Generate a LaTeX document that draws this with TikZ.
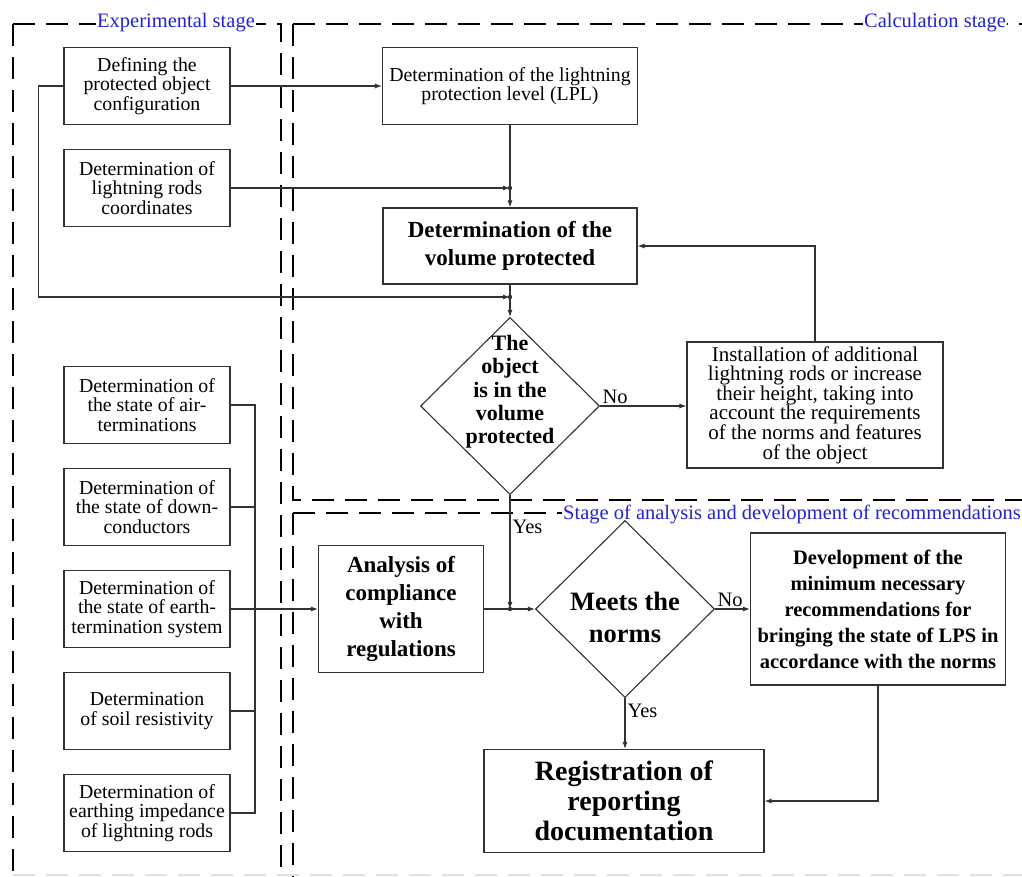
\documentclass[tikz,border=0pt]{standalone}
\usepackage{fontspec}
\setmainfont{Liberation Serif}
\usetikzlibrary{shapes.geometric,arrows.meta}
\definecolor{stageblue}{RGB}{35,35,205}
\definecolor{linegray}{RGB}{50,50,50}

\begin{document}
\begin{tikzpicture}[x=1pt,y=1pt,yscale=-1,xscale=1,
    >={Latex[length=7pt,width=5pt]},
    stageline/.style={line width=2.9pt,dash pattern=on 22pt off 11pt},
    stagelabel/.style={fill=white,inner sep=1.5pt,text=stageblue,font=\fontsize{20.5}{22}\selectfont},
    box/.style={draw=linegray,line width=1.1pt,rectangle,align=center,inner sep=2pt,font=\fontsize{19.8}{19.5}\selectfont},
    expbox/.style={box,minimum width=166pt,minimum height=77pt},
    boldbox/.style={box,font=\fontsize{23}{28}\selectfont\bfseries},
    decision/.style={draw=linegray,line width=1.1pt,diamond,aspect=1,inner sep=0pt,minimum width=179pt,minimum height=177pt},
    dtext/.style={align=center,inner sep=0pt},
    flow/.style={draw=linegray,line width=1.1pt},
    lbl/.style={inner sep=2pt,font=\fontsize{20.5}{22}\selectfont}]
    \useasboundingbox (0,0) rectangle (1022,876);
    \clip (0,0) rectangle (1022,876);

    % stage frames
    \draw[stageline] (13,24) -- (13,880);
    \draw[stageline] (13,24) -- (281,24) -- (281,880);
    \draw[stageline] (293,24) -- (1030,24);
    \draw[stageline] (293,513) -- (1030,513);
    \draw[stageline] (293,513) -- (293,880);
    \draw[stageline,draw=black!12] (13,875) -- (1030,875);
    \node[stagelabel] (explab) at (176,23) {Experimental stage};
    \node[stagelabel] (calclab) at (935,23) {Calculation stage};
    \node[stagelabel] (analab) at (792,514) {Stage of analysis and development of recommendations};
    \draw[stageline] (293,24) -- (293,500) -- (1030,500);

    % Experimental stage
    \node[expbox] (def) at (147,86) {Defining the\\protected object\\configuration};
    \node[expbox] (rods) at (147,188) {Determination of\\lightning rods\\coordinates};
    \node[expbox] (air) at (147,405) {Determination of\\the state of air-\\terminations};
    \node[expbox] (down) at (147,507) {Determination of\\the state of down-\\conductors};
    \node[expbox] (earth) at (147,609) {Determination of\\the state of earth-\\termination system};
    \node[expbox] (soil) at (147,711) {Determination\\of soil resistivity};
    \node[expbox] (imp) at (147,813) {Determination of\\earthing impedance\\of lightning rods};

    % Calculation stage
    \node[box,minimum width=255pt,minimum height=77pt] (lpl) at (510,86) {Determination of the lightning\\protection level (LPL)};
    \node[boldbox,minimum width=254pt,minimum height=76pt] (vol) at (510,246) {Determination of the\\volume protected};
    \node[decision,label={[dtext,shift={(0,14)},font=\fontsize{22}{23.3}\selectfont\bfseries]center:The\\object\\is in the\\volume\\protected}] (d1) at (510,406) {};
    \node[box,font=\fontsize{21}{19.6}\selectfont,minimum width=256pt,minimum height=126pt] (inst) at (815,405) {Installation of additional\\lightning rods or increase\\their height, taking into\\account the requirements\\of the norms and features\\of the object};

    % Stage of analysis
    \node[boldbox,minimum width=165pt,minimum height=127pt] (ana) at (401,609) {Analysis of\\compliance\\with\\regulations};
    \node[decision,label={[dtext,shift={(0,-8)},font=\fontsize{26.5}{32}\selectfont\bfseries]center:Meets the\\norms}] (d2) at (625,609) {};
    \node[box,font=\fontsize{20.5}{26}\selectfont\bfseries,minimum width=255pt,minimum height=152pt] (dev) at (878,609) {Development of the\\minimum necessary\\recommendations for\\bringing the state of LPS in\\accordance with the norms};
    \node[box,font=\fontsize{28}{30}\selectfont\bfseries,minimum width=280pt,minimum height=103pt] (reg) at (624,801) {Registration of\\reporting\\documentation};

    % junctions
    \coordinate (j1) at (lpl.south |- rods.east);
    \coordinate (j2) at (510,297);
    \coordinate (j3) at (d1.south |- ana.east);
    \coordinate (bus) at (255,405);
    \coordinate (busend) at (255,813);

    % connectors
    \draw[flow,->] (def.east) -- (lpl.west);
    \draw[flow,->] (rods.east) -- (j1);
    \draw[flow] (lpl.south) -- (j1);
    \draw[flow,->] (j1) -- (vol.north);
    \draw[flow,->] (def.west) -- ++(-25,0) |- (j2);
    \draw[flow] (vol.south) -- (j2);
    \draw[flow,->] (j2) -- (d1.north);
    \draw[flow,->] (d1.east) -- node[lbl,pos=0,above right] {No} (d1.east -| inst.west);
    \draw[flow,->] (inst.north) |- (vol.east);
    \draw[flow,->] (d1.south) -- node[lbl,pos=0.28,right] {Yes} (j3);

    \draw[flow] (air.east) -- (bus) -- (busend) -- (imp.east);
    \draw[flow] (down.east) -- (down.east -| bus);
    \draw[flow] (soil.east) -- (soil.east -| bus);
    \draw[flow,->] (earth.east) -- (ana.west);
    \draw[flow,->] (ana.east) -- (d2.west);
    \draw[flow,->] (d2.east) -- node[lbl,pos=0,above right] {No} (dev.west);
    \draw[flow,->] (d2.south) -- node[lbl,pos=0.25,right] {Yes} (d2.south |- reg.north);
    \draw[flow,->] (dev.south) |- (reg.east);

    \fill[linegray] (j1) circle (2.2);
    \fill[linegray] (j2) circle (2.2);
    \fill[linegray] (j3) circle (2.2);
\end{tikzpicture}
\end{document}
